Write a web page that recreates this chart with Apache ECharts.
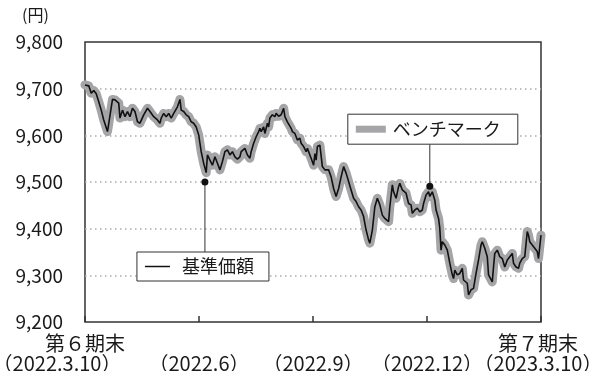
<!DOCTYPE html>
<html>
<head>
<meta charset="utf-8">
<script src="https://cdn.jsdelivr.net/npm/echarts@6/dist/echarts.min.js"></script>
<style>
  html, body { margin: 0; padding: 0; background: #fff; }
  #chart { width: 592px; height: 371px; }
</style>
</head>
<body>
<div id="chart"></div>
<script>
// Days elapsed since the end of period 6 (2022-03-10)
const days = [
  0,3,5,7,9,11,13,15,18,22,
  24,27,28,30,32,34,36,38,40,42,
  44,47,50,52,55,58,60,61,63,65,
  67,69,71,72,74,75,76,77,79,81,
  83,85,87,89,91,93,95,97,98,100,
  102,104,106,108,110,112,114,116,118,120,
  122,124,125,128,130,132,133,135,137,139,
  140,141,143,144,146,147,148,150,152,153,
  155,157,159,160,162,165,166,168,170,172,
  173,175,177,178,181,183,184,185,186,188,
  190,192,193,195,197,199,201,203,205,207,
  209,211,213,215,217,219,221,223,225,227,
  228,230,232,234,236,238,240,243,244,246,
  247,249,251,252,254,255,257,259,261,262,
  264,266,268,270,271,273,275,276,278,280,
  281,283,284,285,286,288,290,292,294,295,
  296,298,300,302,303,306,307,309,311,313,
  315,317,318,320,322,323,324,326,327,328,
  330,332,334,336,338,340,342,343,345,347,
  348,350,352,354,355,356,358,360,362,363,
  365
];

// 基準価額 (yen)
const nav = [
  9708,9706,9690,9696,9689,9672,9654,9633,9608,9677,
  9676,9669,9637,9654,9640,9651,9640,9658,9651,9629,
  9626,9644,9658,9651,9640,9633,9626,9637,9647,9640,
  9647,9637,9647,9651,9661,9658,9677,9654,9651,9644,
  9640,9629,9626,9618,9601,9565,9540,9520,9558,9547,
  9536,9554,9540,9526,9544,9565,9569,9558,9565,9554,
  9549,9554,9565,9572,9558,9551,9565,9583,9597,9608,
  9615,9608,9618,9604,9626,9618,9637,9644,9640,9647,
  9641,9644,9658,9640,9629,9615,9608,9604,9590,9594,
  9583,9576,9565,9572,9551,9536,9561,9547,9576,9579,
  9533,9526,9522,9526,9511,9486,9469,9486,9511,9533,
  9519,9501,9483,9465,9458,9447,9440,9426,9397,9376,
  9369,9397,9447,9465,9451,9429,9422,9415,9447,9494,
  9479,9465,9490,9497,9483,9479,9476,9454,9451,9433,
  9440,9444,9436,9440,9454,9472,9479,9469,9479,9461,
  9440,9422,9401,9354,9372,9365,9354,9326,9301,9293,
  9311,9301,9304,9315,9290,9283,9258,9269,9272,9304,
  9333,9365,9372,9358,9340,9301,9297,9286,9318,9347,
  9354,9340,9336,9318,9333,9340,9347,9326,9318,9315,
  9326,9336,9340,9394,9386,9372,9365,9358,9351,9336,
  9386
];

// ベンチマーク (yen)
const bench = [
  9708,9706,9690,9696,9689,9672,9654,9633,9608,9677,
  9676,9669,9637,9654,9640,9651,9640,9658,9651,9629,
  9626,9644,9658,9651,9640,9633,9626,9637,9647,9640,
  9647,9637,9647,9651,9661,9658,9677,9654,9651,9644,
  9640,9629,9626,9618,9601,9565,9540,9520,9558,9547,
  9536,9554,9540,9526,9544,9565,9569,9558,9565,9554,
  9549,9554,9565,9572,9558,9551,9565,9583,9597,9608,
  9615,9608,9618,9604,9626,9618,9637,9644,9640,9647,
  9641,9644,9658,9640,9629,9615,9608,9604,9590,9594,
  9583,9576,9565,9572,9551,9536,9561,9547,9576,9579,
  9533,9526,9522,9526,9511,9486,9469,9486,9511,9533,
  9519,9501,9483,9465,9458,9447,9440,9426,9397,9376,
  9369,9397,9447,9465,9451,9429,9422,9415,9447,9494,
  9479,9465,9490,9497,9483,9479,9476,9454,9451,9433,
  9440,9444,9436,9440,9454,9472,9479,9469,9479,9461,
  9440,9422,9401,9354,9372,9365,9354,9326,9301,9293,
  9311,9301,9304,9315,9290,9283,9258,9269,9272,9304,
  9333,9365,9372,9358,9340,9301,9297,9286,9318,9347,
  9354,9340,9336,9318,9333,9340,9347,9326,9318,9315,
  9326,9336,9340,9394,9386,9372,9365,9358,9351,9336,
  9386
];

// Quarter tick labels along the bottom axis (rich-text markup)
const xTickLabels = [
  '{p|第６期末}\n{first|（2022.3.10）}',
  '{p|}\n{p|（2022.6）}',
  '{p|}\n{p|（2022.9）}',
  '{p|}\n{p|（2022.12）}',
  '{last|第７期末}\n{last|（2023.3.10）}'
];

const FONT = '"Noto Sans CJK JP", "Noto Sans", sans-serif';
const TEXT = '#1a1a1a';
const LINE = '#333';
const BENCH_GRAY = '#a5a5a7';
const QUARTER = 91.25;

// Callout anchors in [day, yen]
const navCallout = [96, 9500];
const benchCallout = [276, 9491];

const chart = echarts.init(document.getElementById('chart'), null, { renderer: 'canvas' });

const toPairs = vals => days.map((d, i) => [d, vals[i]]);
const labelStyle = { fontFamily: FONT, fontSize: 20, color: TEXT, lineHeight: 20 };
const richStyles = {
  p: labelStyle,
  first: Object.assign({ padding: [0, 56, 0, 0] }, labelStyle),
  last: Object.assign({ padding: [0, 6, 0, 0] }, labelStyle)
};

// Shared scale for both bottom axes; the second carries only the two period-end labels
function dayAxis(pick, withTicks) {
  return {
    type: 'value', min: 0, max: 365, interval: QUARTER, gridIndex: 0, position: 'bottom',
    axisLine: { show: false },
    axisTick: { show: withTicks, inside: true, length: 6, lineStyle: { color: LINE, width: 1.5 } },
    splitLine: { show: false },
    axisLabel: {
      formatter: v => {
        const i = Math.round(v / QUARTER);
        return pick(i) ? (xTickLabels[i] || '') : '';
      },
      showMinLabel: true, showMaxLabel: true, hideOverlap: false,
      fontFamily: FONT, fontSize: 20, color: TEXT, lineHeight: 20, margin: 11,
      rich: richStyles
    }
  };
}

chart.setOption({
  animation: false,
  grid: {
    left: 85, right: 51, top: 42, bottom: 49,
    outerBoundsMode: 'none', containLabel: false,
    show: true, borderColor: LINE, borderWidth: 1.5
  },
  xAxis: [
    dayAxis(i => i > 0 && i < 4, true),
    dayAxis(i => i === 0 || i === 4, false)
  ],
  yAxis: {
    type: 'value', min: 9200, max: 9800, interval: 100,
    axisLine: { show: false },
    axisTick: { show: false },
    splitLine: {
      show: true, showMinLine: false, showMaxLine: false,
      lineStyle: { type: [1.5, 3.5], color: '#aaa', width: 1.5 }
    },
    axisLabel: {
      formatter: v => v.toLocaleString('en-US'),
      fontFamily: FONT, fontSize: 19, color: TEXT, margin: 22
    }
  },
  series: [
    {
      name: 'ベンチマーク', type: 'line', data: toPairs(bench), xAxisIndex: 0,
      showSymbol: false, silent: true,
      lineStyle: { color: BENCH_GRAY, width: 9, join: 'round', cap: 'round' },
      z: 2
    },
    {
      name: '基準価額', type: 'line', data: toPairs(nav), xAxisIndex: 0,
      showSymbol: false, silent: true,
      lineStyle: { color: '#111', width: 1.6 },
      z: 3
    }
  ]
});

// Callout boxes with leader lines, anchored through the chart's own coordinate system
function drawCallouts() {
  const [nx, ny] = chart.convertToPixel({ xAxisIndex: 0, yAxisIndex: 0 }, navCallout);
  const [bx, by] = chart.convertToPixel({ xAxisIndex: 0, yAxisIndex: 0 }, benchCallout);
  const Z = 100;
  chart.setOption({
    graphic: [
      { type: 'text', left: 22, top: 7, z: Z,
        style: { text: '(円)', font: '16px ' + FONT, fill: TEXT } },

      // 基準価額
      { type: 'line', z: Z, shape: { x1: nx, y1: ny, x2: nx, y2: ny + 70 },
        style: { stroke: LINE, lineWidth: 1 } },
      { type: 'circle', z: Z + 1, shape: { cx: nx, cy: ny, r: 3.5 }, style: { fill: '#111' } },
      { type: 'rect', z: Z, shape: { x: nx - 68, y: ny + 70, width: 132, height: 29 },
        style: { fill: '#fff', stroke: LINE, lineWidth: 1 } },
      { type: 'line', z: Z + 1, shape: { x1: nx - 60, y1: ny + 84.5, x2: nx - 35, y2: ny + 84.5 },
        style: { stroke: '#111', lineWidth: 1.5 } },
      { type: 'text', z: Z + 1, x: nx - 23, y: ny + 84.5,
        style: { text: '基準価額', font: '18px ' + FONT, fill: TEXT, verticalAlign: 'middle' } },

      // ベンチマーク
      { type: 'line', z: Z, shape: { x1: bx, y1: by, x2: bx, y2: by - 42 },
        style: { stroke: LINE, lineWidth: 1 } },
      { type: 'circle', z: Z + 1, shape: { cx: bx, cy: by, r: 3.5 }, style: { fill: '#111' } },
      { type: 'rect', z: Z, shape: { x: bx - 82, y: by - 72, width: 170, height: 30 },
        style: { fill: '#fff', stroke: LINE, lineWidth: 1 } },
      { type: 'rect', z: Z + 1, shape: { x: bx - 74, y: by - 60.5, width: 30, height: 7 },
        style: { fill: BENCH_GRAY } },
      { type: 'text', z: Z + 1, x: bx - 37, y: by - 57,
        style: { text: 'ベンチマーク', font: '18px ' + FONT, fill: TEXT, verticalAlign: 'middle' } }
    ]
  });
}
drawCallouts();
</script>
</body>
</html>
